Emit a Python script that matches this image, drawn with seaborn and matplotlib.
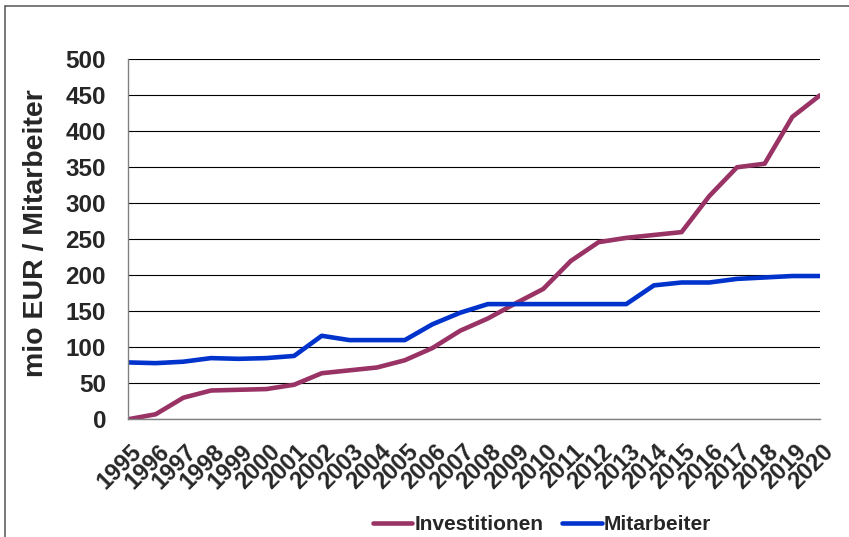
import matplotlib
matplotlib.use("Agg")
import matplotlib.pyplot as plt
from matplotlib.lines import Line2D
from matplotlib.transforms import ScaledTranslation
import pandas as pd
import seaborn as sns

# Jahreswerte
years = list(range(1995, 2021))
investitionen = [0, 7, 30, 40, 41, 42, 48, 64, 68, 72, 82, 99, 123, 140, 161,
                 181, 220, 246, 252, 256, 260, 310, 350, 355, 420, 450]
mitarbeiter = [79, 78, 80, 85, 84, 85, 88, 116, 110, 110, 110, 132, 148, 160,
               160, 160, 160, 160, 160, 186, 190, 190, 195, 197, 199, 199]

series_names = ["Investitionen", "Mitarbeiter"]
series_colors = ["#993366", "#0033CC"]
y_ticks = [0, 50, 100, 150, 200, 250, 300, 350, 400, 450, 500]
x_tick_labels = [str(y) for y in years]
y_label = "mio EUR / Mitarbeiter"

df = pd.DataFrame({
    "Jahr": years * 2,
    "Wert": investitionen + mitarbeiter,
    "Reihe": [series_names[0]] * len(years) + [series_names[1]] * len(years),
})

sns.set_theme(style="white")
plt.rcParams["font.family"] = ["Liberation Sans", "DejaVu Sans"]

W, H = 849, 537
fig = plt.figure(figsize=(W / 100, H / 100), dpi=100)
fig.patch.set_facecolor("white")
ax = fig.add_axes([128 / W, 1 - 419.3 / H, (820 - 128) / W, (419.3 - 59.3) / H])

sns.lineplot(data=df, x="Jahr", y="Wert", hue="Reihe", hue_order=series_names,
             palette=series_colors, linewidth=3.3, ax=ax, legend=True)

ax.set_xlim(years[0], years[-1])
ax.set_ylim(y_ticks[0], y_ticks[-1])
ax.set_xlabel("")
ax.set_ylabel("")

ax.yaxis.grid(True, color="black", linewidth=0.8)
ax.xaxis.grid(False)
ax.set_axisbelow(True)
for side in ("top", "right"):
    ax.spines[side].set_visible(False)
for side in ("left", "bottom"):
    ax.spines[side].set_color("#808080")
    ax.spines[side].set_linewidth(1.0)
ax.tick_params(axis="y", direction="out", length=5.8, width=0.8, color="#404040",
               pad=10, labelsize=17.5)
ax.tick_params(axis="x", direction="out", length=5.8, width=0.8, color="#404040",
               pad=9, labelsize=17)

ax.set_yticks(y_ticks)
ax.set_yticklabels([str(v) for v in y_ticks])
ax.set_xticks(years)
ax.set_xticklabels(x_tick_labels)
plt.setp(ax.get_yticklabels(), fontweight="bold", fontsize=17.5)
shift = ScaledTranslation(2 / 100, 0, fig.dpi_scale_trans)
for lbl in ax.get_xticklabels():
    lbl.set_rotation(45)
    lbl.set_ha("right")
    lbl.set_va("top")
    lbl.set_rotation_mode("anchor")
    lbl.set_fontsize(17)
    lbl.set_fontweight("bold")
    lbl.set_transform(lbl.get_transform() + shift)

fig.text(36 / W, 1 - 233 / H, y_label, rotation=90, ha="center", va="center",
         fontsize=20.5, fontweight="bold")

sns.move_legend(ax, "center", bbox_to_anchor=(542 / W, 1 - 525 / H),
                bbox_transform=fig.transFigure, ncol=2, frameon=False, title=None,
                prop={"size": 15, "weight": "bold"}, handlelength=1.9,
                handletextpad=0.1, columnspacing=0.9)
for line in ax.get_legend().get_lines():
    line.set_linewidth(3.3)

# Rahmen links und oben
fig.add_artist(Line2D([4.5 / W, 4.5 / W], [0, 1 - 6 / H], transform=fig.transFigure,
                      color="#555555", linewidth=1.1))
fig.add_artist(Line2D([4.5 / W, 1], [1 - 6 / H, 1 - 6 / H], transform=fig.transFigure,
                      color="#555555", linewidth=1.1))

fig.savefig("out.png", dpi=100)
